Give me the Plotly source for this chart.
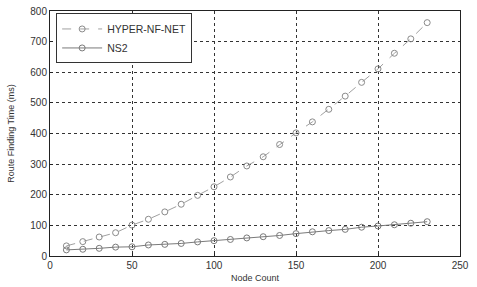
import plotly.graph_objects as go

node_count = [10, 20, 30, 40, 50, 60, 70, 80, 90, 100, 110, 120, 130, 140, 150,
              160, 170, 180, 190, 200, 210, 220, 230]
hyper_nf_net = [33, 47, 62, 76, 101, 120, 144, 169, 198, 226, 258, 294, 324, 364, 402,
                438, 479, 522, 567, 611, 662, 709, 762]
ns2 = [20, 22, 25, 29, 30, 36, 38, 41, 46, 50, 54, 59, 63, 67, 73,
       79, 83, 87, 94, 98, 102, 107, 112]

x_ticks = [0, 50, 100, 150, 200, 250]
y_ticks = [0, 100, 200, 300, 400, 500, 600, 700, 800]

FONT = "Liberation Sans, Arial"

fig = go.Figure()
fig.add_trace(go.Scatter(
    x=node_count, y=hyper_nf_net, name="HYPER-NF-NET", mode="lines+markers",
    line=dict(color="#a0a0a0", width=1, dash="dash"),
    marker=dict(symbol="circle-open", size=6, color="#8a8a8a", line=dict(width=1)),
))
fig.add_trace(go.Scatter(
    x=node_count, y=ns2, name="NS2", mode="lines+markers",
    line=dict(color="#7a7a7a", width=1),
    marker=dict(symbol="circle-open", size=6, color="#7a7a7a", line=dict(width=1)),
))

axis_common = dict(
    showline=True, linecolor="#222", linewidth=1, mirror=True,
    showgrid=True, gridcolor="#333", griddash="dot", gridwidth=1,
    zeroline=False, ticks="inside", ticklen=3, tickcolor="#222",
    tickfont=dict(family=FONT, size=10, color="#333"),
    automargin=False, ticklabeloverflow="allow",
)
fig.update_xaxes(range=[0, 250], tickvals=x_ticks,
                 title=dict(text="Node Count", font=dict(family=FONT, size=9, color="#333"), standoff=4),
                 **axis_common)
fig.update_yaxes(range=[0, 800], tickvals=y_ticks,
                 title=dict(text="Route Finding Time (ms)", font=dict(family=FONT, size=9, color="#333"), standoff=14),
                 **axis_common)

fig.update_layout(
    width=477, height=287,
    margin=dict(l=50, r=17, t=11, b=31),
    paper_bgcolor="white", plot_bgcolor="white",
    showlegend=True,
    legend=dict(x=0.015, y=0.99, xanchor="left", yanchor="top",
                bgcolor="white", bordercolor="#333", borderwidth=1,
                font=dict(family=FONT, size=10.5, color="#333"),
                tracegroupgap=0, itemwidth=40),
)

fig.write_html("out.html", config={"displayModeBar": False},
               post_script="document.body.style.margin='0';")
